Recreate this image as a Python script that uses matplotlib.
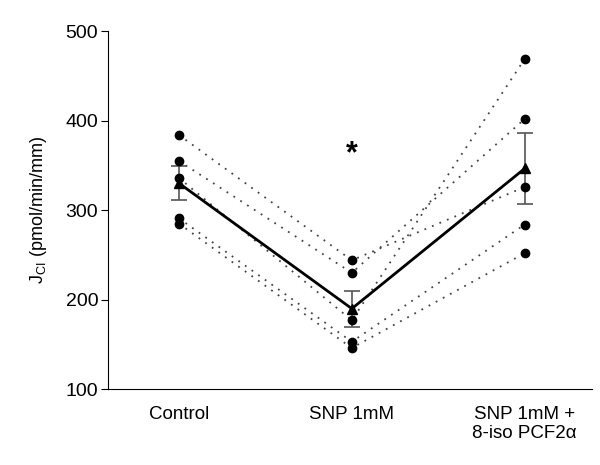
import numpy as np
import matplotlib
matplotlib.use('Agg')
from matplotlib import pyplot as plt

plt.rcParams['font.family'] = ['Liberation Sans', 'DejaVu Sans']

groups = ['Control', 'SNP 1mM', 'SNP 1mM +\n8-iso PCF2α']
control = [384, 355, 336, 291, 285]
snp = [244, 230, 177, 153, 146]
snp_iso = [326, 402, 469, 284, 252]

data = np.array([control, snp, snp_iso])
means = data.mean(axis=1)
sems = data.std(axis=1, ddof=1) / np.sqrt(data.shape[1])
x = np.arange(len(groups))

fig = plt.figure(figsize=(6, 4.65), dpi=100)
ax = fig.add_axes([0.18, 0.163, 0.807, 0.77])

# individual animals
for i in range(data.shape[1]):
    ax.plot(x, data[:, i], ls=(0, (1, 3.5)), color='#444444', lw=1.3, zorder=1)
    ax.plot(x, data[:, i], 'o', color='black', ms=6, zorder=3)

# mean +/- sem
ax.errorbar(x, means, yerr=sems, fmt='none', ecolor='#555555', elinewidth=1.2,
            capsize=6, capthick=1.2, zorder=2)
ax.plot(x, means, '-^', color='black', lw=2, ms=7, zorder=4)

ax.text(1, 362, '*', ha='center', va='center', fontsize=22, fontweight='bold')

ax.set_ylim(100, 500)
ax.set_xlim(-0.41, 2.39)
ax.set_yticks([100, 200, 300, 400, 500])
ax.set_xticks(x)
ax.set_xticklabels(groups, fontsize=13.5)
ax.tick_params(axis='x', length=0, pad=12)
ax.tick_params(axis='y', labelsize=14, length=5, direction='out', pad=2)
ax.set_ylabel(r'J$_{\mathregular{CI}}$ (pmol/min/mm)', fontsize=13, labelpad=12)
ax.spines['top'].set_visible(False)
ax.spines['right'].set_visible(False)

plt.savefig('out.png', dpi=100)
